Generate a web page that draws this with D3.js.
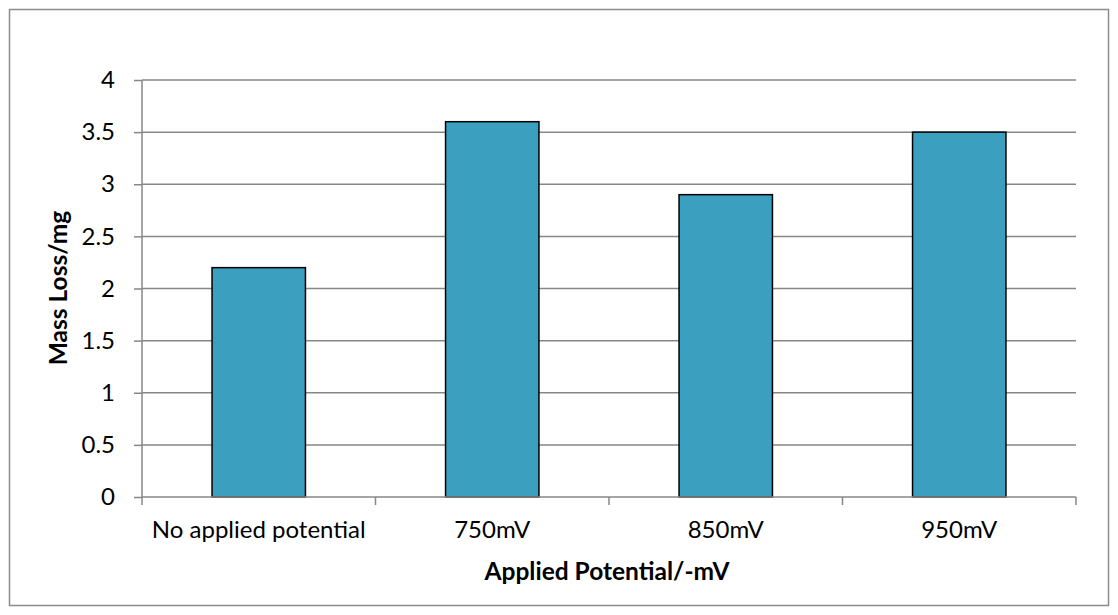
<!DOCTYPE html>
<html>
<head>
<meta charset="utf-8">
<script src="https://cdn.jsdelivr.net/npm/d3@7"></script>
<style>
  html, body { margin: 0; padding: 0; background: #fff; }
  svg { display: block; }
  text { font-family: Lato, "Open Sans", "Liberation Sans", sans-serif; fill: #000; }
</style>
</head>
<body>
<svg id="chart" width="1118" height="615"></svg>
<script>
// Mass loss measured at each applied potential
const categories = ["No applied potential", "750mV", "850mV", "950mV"];
const massLoss = [2.2, 3.6, 2.9, 3.5];
const yTicks = [0, 0.5, 1, 1.5, 2, 2.5, 3, 3.5, 4];

const svg = d3.select("#chart");
const W = 1118, H = 615;
const plot = { left: 142, right: 1076, top: 80, bottom: 497 };
const labelFont = "Lato, 'Open Sans', sans-serif";

// chart frame
svg.append("rect")
  .attr("x", 9.5).attr("y", 9.5)
  .attr("width", W - 19).attr("height", H - 19)
  .attr("fill", "#fff").attr("stroke", "#8c8c8c").attr("stroke-width", 1.5);

const x = d3.scaleBand().domain(categories)
  .range([plot.left, plot.right]).paddingInner(0.6).paddingOuter(0.3);
const y = d3.scaleLinear().domain([0, 4]).range([plot.bottom, plot.top]);

const gridColor = "#878787";

// horizontal gridlines
svg.append("g").selectAll("line").data(yTicks.filter(d => d > 0)).join("line")
  .attr("x1", plot.left).attr("x2", plot.right)
  .attr("y1", d => y(d)).attr("y2", d => y(d))
  .attr("stroke", gridColor).attr("stroke-width", 1.5);

// y axis
const yAxis = svg.append("g").attr("transform", `translate(${plot.left},0)`)
  .call(d3.axisLeft(y).tickValues(yTicks).tickSize(8).tickPadding(19).tickFormat(d3.format("")));
yAxis.select(".domain").attr("stroke", gridColor).attr("stroke-width", 1.5).attr("d", `M0,${plot.top}V${plot.bottom}`);
yAxis.selectAll(".tick line").attr("stroke", gridColor).attr("stroke-width", 1.5);
yAxis.selectAll(".tick text").attr("font-size", 24).attr("font-family", labelFont).attr("fill", "#000");

// bars
svg.append("g").selectAll("rect").data(categories).join("rect")
  .attr("x", d => x(d))
  .attr("y", (d, i) => y(massLoss[i]))
  .attr("width", x.bandwidth())
  .attr("height", (d, i) => y(0) - y(massLoss[i]))
  .attr("fill", "#3ba0bf")
  .attr("stroke", "#000").attr("stroke-width", 1.5);

// x axis with ticks at category boundaries
const step = (plot.right - plot.left) / categories.length;
const xAxisG = svg.append("g");
xAxisG.append("line")
  .attr("x1", plot.left).attr("x2", plot.right)
  .attr("y1", plot.bottom).attr("y2", plot.bottom)
  .attr("stroke", gridColor).attr("stroke-width", 1.5);
xAxisG.selectAll("line.tick").data(d3.range(categories.length + 1)).join("line")
  .attr("class", "tick")
  .attr("x1", i => plot.left + i * step).attr("x2", i => plot.left + i * step)
  .attr("y1", plot.bottom).attr("y2", plot.bottom + 8)
  .attr("stroke", gridColor).attr("stroke-width", 1.5);
xAxisG.selectAll("text").data(categories).join("text")
  .attr("x", d => x(d) + x.bandwidth() / 2)
  .attr("y", 538)
  .attr("text-anchor", "middle")
  .attr("font-size", 24)
  .text(d => d);

// axis titles
svg.append("text")
  .attr("x", 607).attr("y", 580)
  .attr("text-anchor", "middle").attr("font-size", 24.5).attr("font-weight", "bold")
  .text("Applied Potential/-mV");

svg.append("text")
  .attr("transform", `translate(67,288) rotate(-90)`)
  .attr("text-anchor", "middle").attr("font-size", 24.5).attr("font-weight", "bold")
  .text("Mass Loss/mg");
</script>
</body>
</html>
